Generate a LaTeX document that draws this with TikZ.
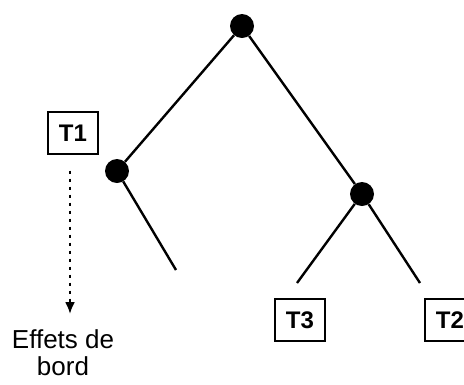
\documentclass[tikz,border=0pt]{standalone}
\usepackage{fontspec}
\setmainfont{Liberation Sans}
\usetikzlibrary{arrows.meta}
\begin{document}
\begin{tikzpicture}[x=1pt,y=-1pt]
    \tikzstyle{point}=[circle,fill=black,inner sep=0pt,minimum size=24pt]
    \tikzstyle{leaf}=[draw=black,line width=1.4pt,minimum width=50pt,minimum height=42pt,inner sep=0pt,font=\fontsize{24}{26}\selectfont\bfseries]
    \tikzstyle{branch}=[line width=2.4pt]
    \tikzstyle{effect}=[line width=2.2pt,dash pattern=on 3pt off 5pt,-{Latex[length=12pt,width=10pt]}]
    \useasboundingbox (0,0) rectangle (464,384);
    \node (r)[point] at (242,26) {};
    \node (n1)[point] at (117,171) {};
    \node (n2)[point] at (362,194) {};
    \coordinate (e1) at (176,270);
    \coordinate (e3) at (297,283);
    \coordinate (e2) at (420,283);
    \node (t1)[leaf] at (73,133) {T1};
    \node (t3)[leaf] at (300,320) {T3};
    \node (t2)[leaf] at (450,320) {T2};
    \node (bord)[align=center,inner sep=0pt,font=\fontsize{26}{27}\selectfont] at (63,353) {Effets de\\bord};
    \coordinate (tip) at (70,314);
    \draw [branch] (r) -- (n1);
    \draw [branch] (r) -- (n2);
    \draw [branch] (n1) -- (e1);
    \draw [branch] (n2) -- (e3);
    \draw [branch] (n2) -- (e2);
    \draw [effect, shorten <=16pt] (t1.south -| tip) -- (tip);
\end{tikzpicture}
\end{document}
